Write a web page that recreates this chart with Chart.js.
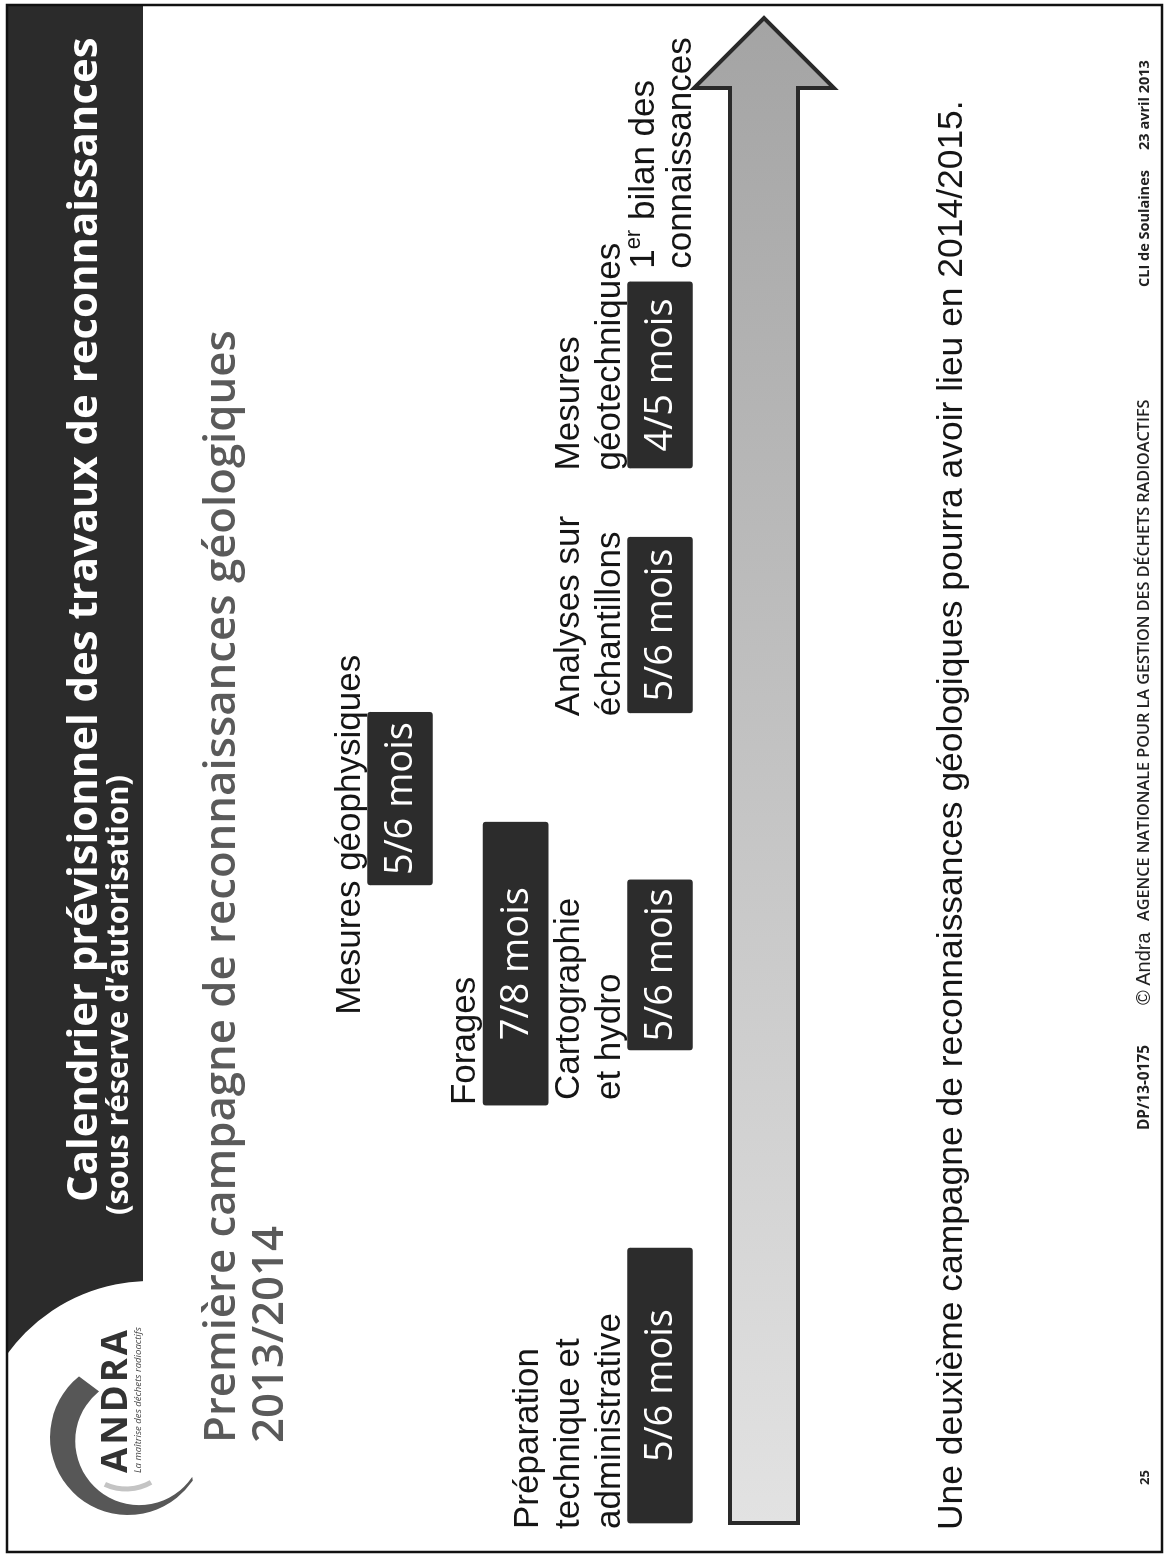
<!DOCTYPE html>
<html>
<head>
<meta charset="utf-8">
<script src="https://cdn.jsdelivr.net/npm/chart.js@4.4.0/dist/chart.umd.min.js"></script>
<style>
  html, body { margin: 0; padding: 0; background: #fff; overflow: hidden; }
  #page { position: absolute; left: 0; top: 0; width: 1170px; height: 1557px; overflow: hidden; background: #fff; }
  /* the slide is drawn landscape and turned a quarter turn, like the scanned page */
  #slide { position: absolute; left: 0; top: 0; width: 1557px; height: 1170px;
           transform-origin: 0 0; transform: translateY(1557px) rotate(-90deg); }
  #slide canvas { position: absolute; left: 0; top: 0; }
  .txt { position: absolute; white-space: nowrap; }
</style>
</head>
<body>
<div id="page"><div id="slide"><canvas id="chart" width="1557" height="1170"></canvas></div></div>
<script>
// Tasks of the first campaign (time axis in months from the start)
const taskLabels = [
  ['Préparation', 'technique et', 'administrative'],
  ['Mesures géophysiques'],
  ['Forages'],
  ['Cartographie', 'et hydro'],
  ['Analyses sur', 'échantillons'],
  ['Mesures', 'géotechniques']
];
const taskDurations = ['5/6 mois', '5/6 mois', '7/8 mois', '5/6 mois', '5/6 mois', '4/5 mois'];
const taskStart = [0, 12.72, 8.33, 9.43, 16.15, 21.03];
const taskEnd = [5.48, 16.16, 13.97, 12.82, 19.65, 24.74];
const taskLabelAt = [0, 10.25, 8.45, 8.55, 16.2, 21.1];
const taskLane = [2, 0, 0.89, 2, 2, 2];

// Milestone and timeline arrow
const milestoneAt = 25.0;
const milestoneLane = 2;
const timelineEnd = 30;
const arrowLane = 2.8;

// Slide texts
const slideTitle = 'Calendrier prévisionnel des travaux de reconnaissances';
const slideSubtitle = '(sous réserve d\u2019autorisation)';
const headingLines = ['Première campagne de reconnaissances géologiques', '2013/2014'];
const bottomNote = 'Une deuxième campagne de reconnaissances géologiques pourra avoir lieu en 2014/2015.';
const footerPage = '25';
const footerRef = 'DP/13-0175';
const footerCopy = '\u00A9 Andra';
const footerAgency = 'AGENCE NATIONALE POUR LA GESTION DES DÉCHETS RADIOACTIFS';
const footerEvent = 'CLI de Soulaines';
const footerDate = '23 avril 2013';

const slide = document.getElementById('slide');
const measureCtx = document.createElement('canvas').getContext('2d');

// put a line of text with its baseline at a given place; optionally fit it to a width
function placeText(text, o) {
  const fam = o.family || "'Open Sans'";
  const weight = o.weight || 400;
  const style = o.italic ? 'italic' : 'normal';
  const fontStr = s => `${style} ${weight} ${s}px ${fam}`;
  let fs = o.size || 20;
  if (o.width) {
    measureCtx.font = fontStr(100);
    fs = 100 * (o.width - (o.spacing || 0) * text.length) / measureCtx.measureText(text).width;
  }
  measureCtx.font = fontStr(fs);
  const m = measureCtx.measureText(text);
  const a = m.fontBoundingBoxAscent, d = m.fontBoundingBoxDescent;
  const top = o.baseline - ((fs - (a + d)) / 2 + a);
  const el = document.createElement('div');
  el.className = 'txt';
  el.textContent = text;
  el.style.font = fontStr(fs);
  el.style.lineHeight = fs + 'px';
  el.style.left = o.x + 'px';
  el.style.top = top + 'px';
  el.style.color = o.color || '#111';
  if (o.spacing) el.style.letterSpacing = o.spacing + 'px';
  slide.appendChild(el);
  return fs;
}

const rad = d => (d * Math.PI) / 180;

// background of the slide: frame, dark title band, logo swoosh
const slidePlugin = {
  id: 'slideBackground',
  beforeDraw(chart) {
    const c = chart.ctx;
    c.save();
    c.fillStyle = '#fff';
    c.fillRect(0, 0, chart.width, chart.height);

    // title band, cut by the round logo
    c.save();
    c.beginPath();
    c.rect(150, 8, 1402, 135);
    c.clip();
    c.beginPath();
    c.rect(150, 8, 1402, 135);
    c.arc(100, 150, 176, 0, Math.PI * 2, true);
    c.fillStyle = '#2b2b2b';
    c.fill('evenodd');
    c.restore();

    // logo swoosh
    c.beginPath();
    c.arc(120, 128, 78, rad(-39), rad(124), true);
    c.arc(120 + 12 * Math.cos(rad(110)), 128 + 12 * Math.sin(rad(110)), 64, rad(124), rad(-39), false);
    c.closePath();
    c.fillStyle = '#575757';
    c.fill();
    c.beginPath();
    c.lineWidth = 5;
    c.strokeStyle = '#c4c4c4';
    c.arc(118, 126, 50, rad(150), rad(205));
    c.stroke();

    // frame
    c.lineWidth = 2.5;
    c.strokeStyle = '#111';
    c.strokeRect(5, 7, 1547, 1155);
    c.restore();
  }
};

// timeline arrow under the tasks
const arrowPlugin = {
  id: 'timelineArrow',
  beforeDatasetsDraw(chart) {
    const c = chart.ctx, xs = chart.scales.x, ys = chart.scales.y;
    const x0 = xs.getPixelForValue(0), tip = xs.getPixelForValue(timelineEnd);
    const yc = ys.getPixelForValue(arrowLane);
    const shaft = 34, head = 70, headLen = 70;
    c.save();
    const g = c.createLinearGradient(x0, 0, tip, 0);
    g.addColorStop(0, '#e2e2e2');
    g.addColorStop(1, '#a4a4a4');
    c.beginPath();
    c.moveTo(x0, yc - shaft);
    c.lineTo(tip - headLen, yc - shaft);
    c.lineTo(tip - headLen, yc - head);
    c.lineTo(tip, yc);
    c.lineTo(tip - headLen, yc + head);
    c.lineTo(tip - headLen, yc + shaft);
    c.lineTo(x0, yc + shaft);
    c.closePath();
    c.fillStyle = g;
    c.fill();
    c.lineWidth = 4;
    c.lineJoin = 'miter';
    c.strokeStyle = '#2a2a2a';
    c.stroke();
    c.restore();
  }
};

// durations inside the boxes, names above them, milestone text
const labelPlugin = {
  id: 'taskLabels',
  afterDatasetsDraw(chart) {
    const c = chart.ctx, xs = chart.scales.x, ys = chart.scales.y;
    const meta = chart.getDatasetMeta(0);
    c.save();
    meta.data.forEach((bar, i) => {
      const left = Math.min(bar.x, bar.base), right = Math.max(bar.x, bar.base);
      c.fillStyle = '#fff';
      c.font = "400 38px 'Open Sans'";
      c.textAlign = 'center';
      c.textBaseline = 'middle';
      c.fillText(taskDurations[i], (left + right) / 2, bar.y + 1);

      c.fillStyle = '#151515';
      c.font = "400 35px 'Liberation Sans'";
      c.textAlign = 'left';
      c.textBaseline = 'alphabetic';
      const lines = taskLabels[i];
      const lastBase = bar.y - bar.height / 2 - 8;
      const lx = xs.getPixelForValue(taskLabelAt[i]) - 6;
      lines.forEach((t, k) => {
        c.fillText(t, lx, lastBase - (lines.length - 1 - k) * 41);
      });
    });

    // 1er bilan des connaissances
    const mx = xs.getPixelForValue(milestoneAt), my = ys.getPixelForValue(milestoneLane);
    c.fillStyle = '#151515';
    c.textAlign = 'left';
    c.textBaseline = 'alphabetic';
    c.font = "400 35px 'Liberation Sans'";
    c.fillText('1', mx, my - 6);
    let w = c.measureText('1').width;
    c.font = "400 22px 'Liberation Sans'";
    c.fillText('er', mx + w, my - 20);
    w += c.measureText('er').width;
    c.font = "400 35px 'Liberation Sans'";
    c.fillText(' bilan des', mx + w, my - 6);
    c.fillText('connaissances', mx, my + 31);
    c.restore();
  }
};

new Chart(document.getElementById('chart').getContext('2d'), {
  type: 'bar',
  data: {
    datasets: [{
      data: taskStart.map((s, i) => ({ x: [s, taskEnd[i]], y: taskLane[i] })),
      backgroundColor: '#2c2c2c',
      borderRadius: 3,
      borderSkipped: false,
      barThickness: 65,
      clip: false
    }]
  },
  options: {
    indexAxis: 'y',
    responsive: false,
    animation: false,
    events: [],
    layout: { padding: { left: 34, right: 18, top: 387, bottom: 497 } },
    scales: {
      x: { type: 'linear', min: 0, max: timelineEnd, display: false },
      y: { type: 'linear', min: 0, max: 2, reverse: true, display: false }
    },
    plugins: { legend: { display: false }, tooltip: { enabled: false } }
  },
  plugins: [slidePlugin, arrowPlugin, labelPlugin]
});

// texts of the slide
placeText(slideTitle, { x: 355, baseline: 97, width: 1165, weight: 700, color: '#fff' });
placeText(slideSubtitle, { x: 342, baseline: 128, width: 440, weight: 700, color: '#fff' });
const hs = placeText(headingLines[0], { x: 114, baseline: 236, width: 1113, weight: 600, color: '#5a5a5a' });
placeText(headingLines[1], { x: 114, baseline: 284, size: hs, weight: 600, color: '#5a5a5a' });
placeText('ANDRA', { x: 84, baseline: 127, width: 146, weight: 700, color: '#333', spacing: 3 });
placeText('La maîtrise des déchets radioactifs', { x: 84, baseline: 141, width: 146, italic: true, color: '#444' });
placeText(bottomNote, { x: 27, baseline: 963, width: 1430, family: "'Liberation Sans'", color: '#151515' });
placeText(footerPage, { x: 72, baseline: 1149, size: 13, weight: 700, color: '#222' });
placeText(footerRef, { x: 427, baseline: 1149, width: 85, weight: 700, color: '#222' });
placeText(footerCopy, { x: 552, baseline: 1150, size: 20, family: "'Liberation Sans'", color: '#222' });
placeText(footerAgency, { x: 636, baseline: 1149, width: 522, weight: 600, color: '#222' });
placeText(footerEvent, { x: 1270, baseline: 1149, width: 117, weight: 700, color: '#222' });
placeText(footerDate, { x: 1407, baseline: 1149, width: 90, weight: 700, color: '#222' });
</script>
</body>
</html>
